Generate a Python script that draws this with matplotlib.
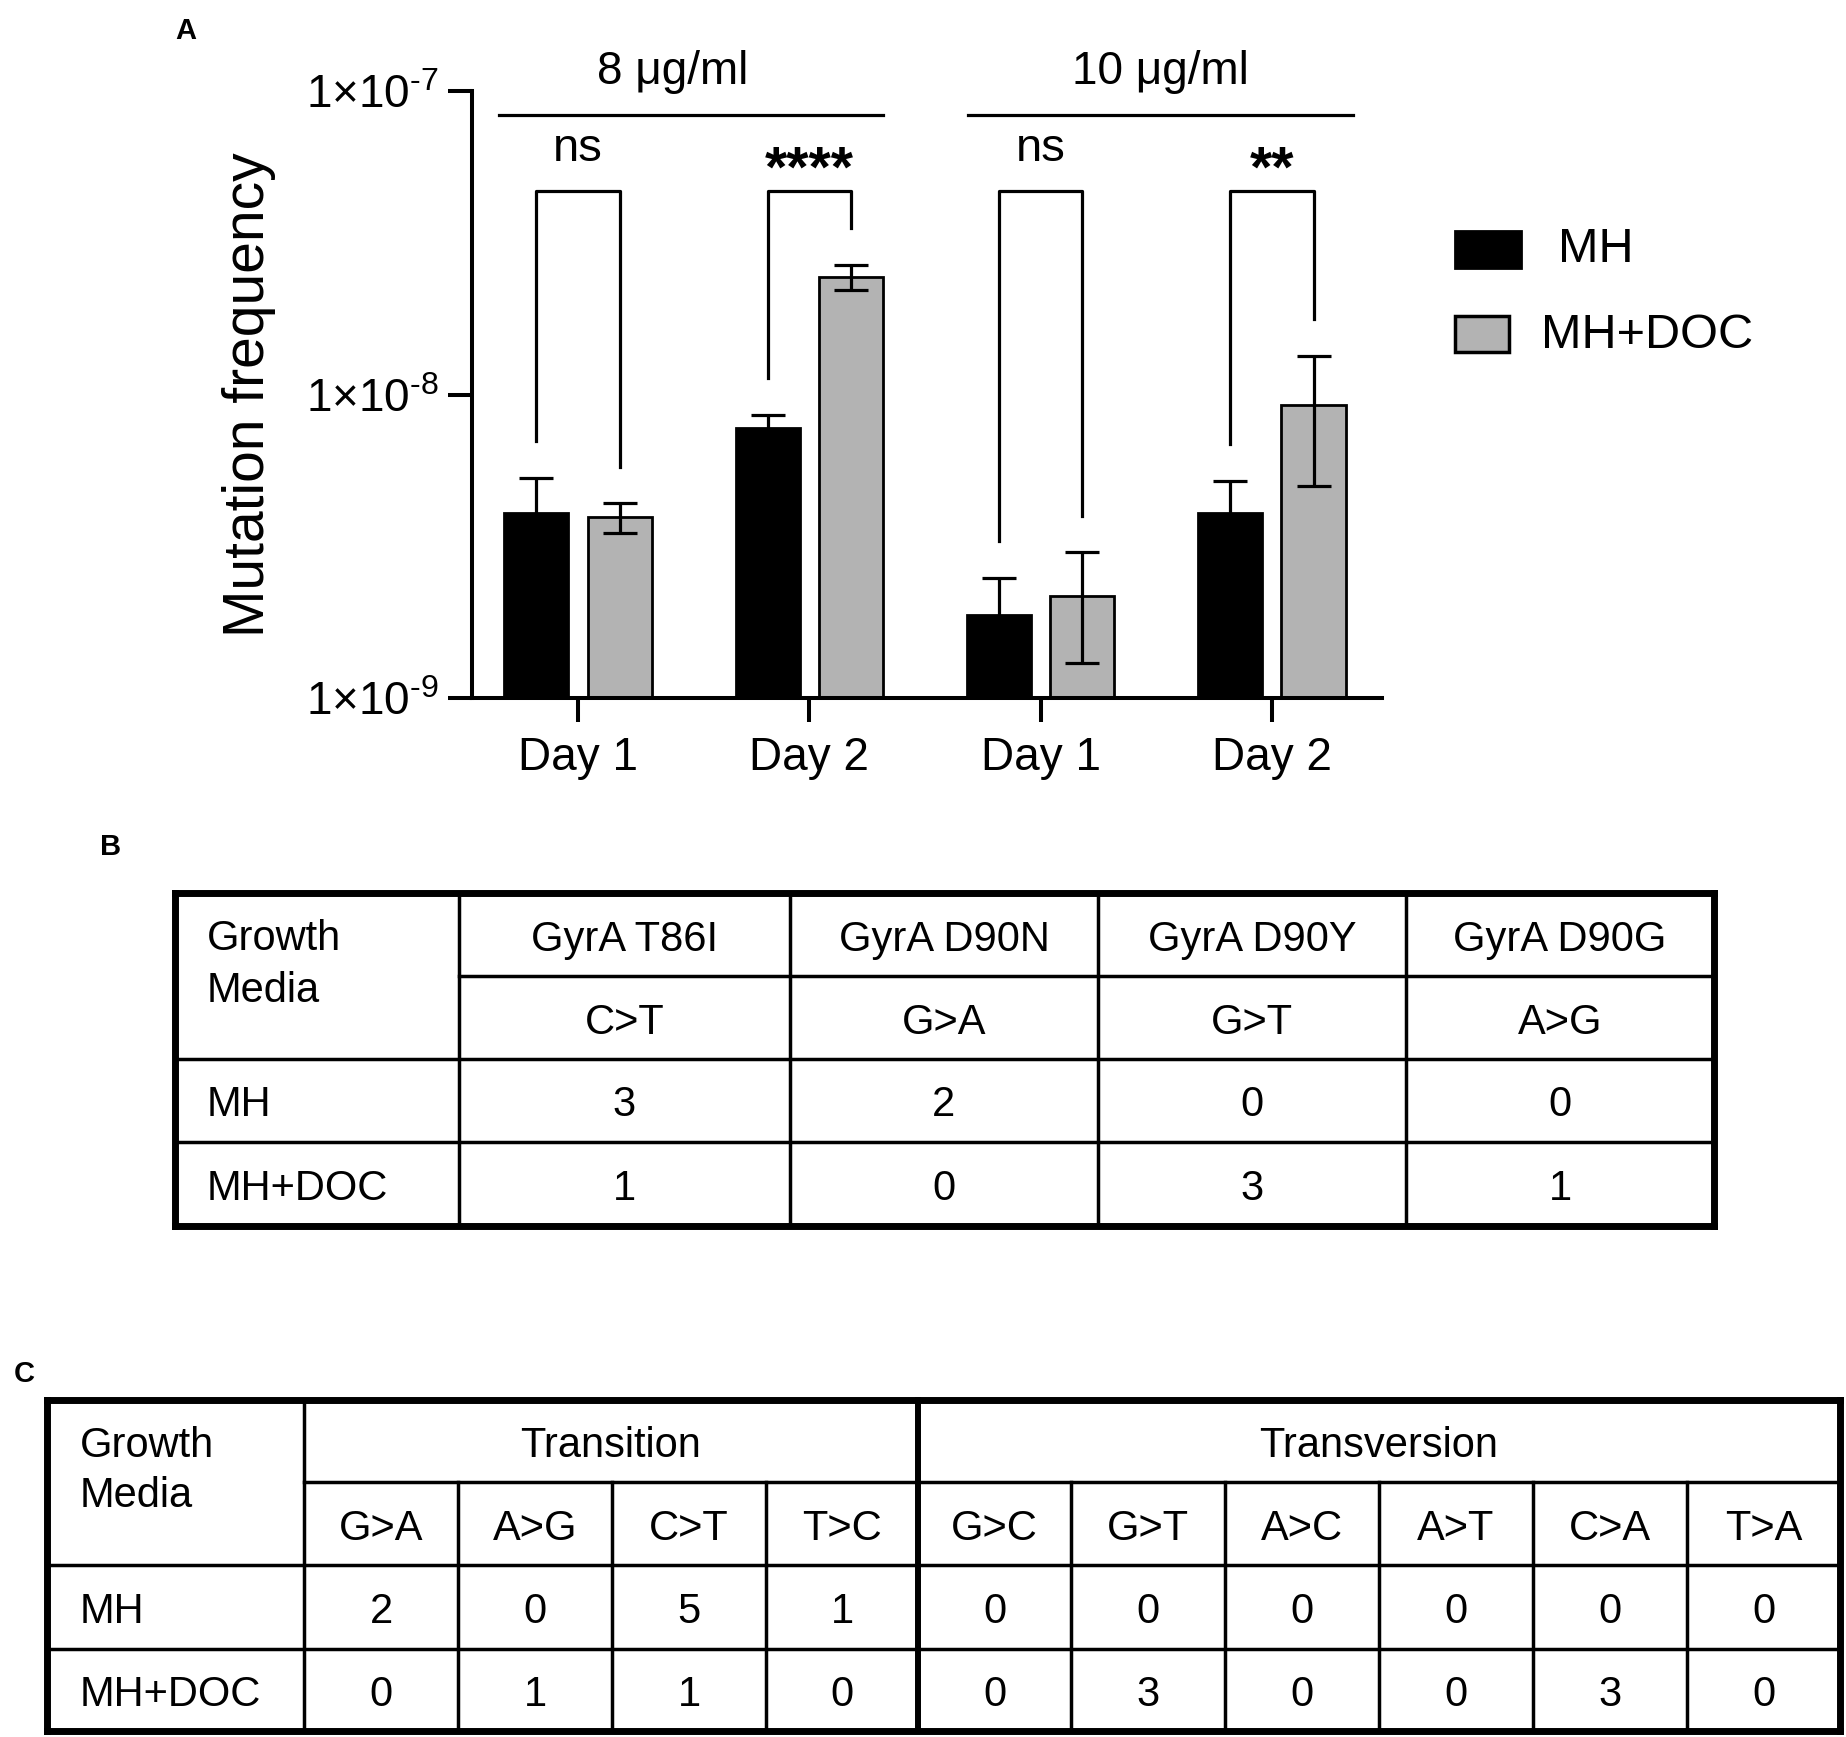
import numpy as np
import matplotlib
matplotlib.use('Agg')
import matplotlib.pyplot as plt
from matplotlib.patches import Rectangle

plt.rcParams['font.family'] = ['Liberation Sans', 'DejaVu Sans']
plt.rcParams['mathtext.fontset'] = 'custom'
plt.rcParams['mathtext.rm'] = 'Liberation Sans'

# panel A data (mutation frequency, mean and error)
day_labels = ['Day 1', 'Day 2', 'Day 1', 'Day 2']
group_labels = ['8 μg/ml', '10 μg/ml']
series_names = ['MH', 'MH+DOC']
mh_mean = np.array([4.08e-9, 7.74e-9, 1.88e-9, 4.08e-9])
mh_err = np.array([1.23e-9, 0.82e-9, 0.61e-9, 1.11e-9])
doc_mean = np.array([3.94e-9, 2.44e-8, 2.16e-9, 9.2e-9])
doc_err = np.array([0.44e-9, 0.23e-8, 0.86e-9, 4.2e-9])
sig_labels = ['ns', '****', 'ns', '**']

# panel B data
b_mutations = ['GyrA T86I', 'GyrA D90N', 'GyrA D90Y', 'GyrA D90G']
b_changes = ['C>T', 'G>A', 'G>T', 'A>G']
b_mh = [3, 2, 0, 0]
b_doc = [1, 0, 3, 1]

# panel C data
c_transition = ['G>A', 'A>G', 'C>T', 'T>C']
c_transversion = ['G>C', 'G>T', 'A>C', 'A>T', 'C>A', 'T>A']
c_mh = [2, 0, 5, 1, 0, 0, 0, 0, 0, 0]
c_doc = [0, 1, 1, 0, 0, 3, 0, 0, 3, 0]

W, H = 1846, 1737
fig = plt.figure(figsize=(W / 100, H / 100), dpi=100)

# overlay in pixel coords for tables, legend and panel letters
ov = fig.add_axes([0, 0, 1, 1])
ov.set_xlim(0, W)
ov.set_ylim(H, 0)
ov.axis('off')
ov.patch.set_visible(False)

# ---- panel A ----
ax = fig.add_axes([472 / W, 1 - 698 / H, (1382 - 472) / W, (698 - 91) / H])
ax.set_yscale('log')
ax.set_ylim(1e-9, 1e-7)
ax.set_xlim(-0.458, 3.476)
x = np.arange(len(day_labels))
off, bw = 0.18, 0.277
floor = 1e-9
ax.bar(x - off, mh_mean - floor, bottom=floor, width=bw, color='black',
       edgecolor='black', linewidth=2, zorder=2)
ax.bar(x + off, doc_mean - floor, bottom=floor, width=bw, color='#b3b3b3',
       edgecolor='black', linewidth=2, zorder=2)
ax.errorbar(x - off, mh_mean, yerr=mh_err, fmt='none', ecolor='black',
            elinewidth=2.3, capsize=12, capthick=2.3, zorder=3)
ax.errorbar(x + off, doc_mean, yerr=doc_err, fmt='none', ecolor='black',
            elinewidth=2.3, capsize=12, capthick=2.3, zorder=3)

# brackets
top = 4.67e-8
for i in range(len(x)):
    l0 = (mh_mean[i] + mh_err[i]) * 1.32
    l1 = (doc_mean[i] + doc_err[i]) * 1.32
    ax.plot([x[i] - off, x[i] - off, x[i] + off, x[i] + off], [l0, top, top, l1],
            color='black', lw=2.3, clip_on=False, zorder=4)
    if sig_labels[i] == 'ns':
        ax.text(x[i], 5.9e-8, sig_labels[i], ha='center', va='baseline', fontsize=34)
    else:
        ax.text(x[i], 4.85e-8, sig_labels[i], ha='center', va='baseline',
                fontsize=41, fontweight='bold')

# group lines and labels
for g, lab in enumerate(group_labels):
    shift = 0.0 if g == 0 else 0.03
    ax.plot([2 * g - 0.342 + shift, 2 * g + 1.319 + shift], [8.35e-8, 8.35e-8],
            color='black', lw=2.3, clip_on=False)
    ax.text(2 * g + (0.41 if g == 0 else 0.52), 1.012, lab, ha='center', va='baseline',
            fontsize=33, transform=ax.get_xaxis_transform())

ax.spines['top'].set_visible(False)
ax.spines['right'].set_visible(False)
ax.spines['left'].set_linewidth(2.9)
ax.spines['bottom'].set_linewidth(2.9)
ax.set_xticks(x)
ax.set_xticklabels(day_labels, fontsize=33)
ax.set_yticks([1e-9, 1e-8, 1e-7])
ax.set_yticklabels([r'1×10$^{\text{-9}}$', r'1×10$^{\text{-8}}$', r'1×10$^{\text{-7}}$'],
                   fontsize=33)
ax.minorticks_off()
ax.tick_params(axis='both', length=17, width=2.9)
ax.tick_params(axis='x', pad=10)
ax.tick_params(axis='y', pad=7)
ax.set_ylabel('Mutation frequency', fontsize=41, va='center')
ax.yaxis.set_label_coords(-0.245, 0.5)

# legend
ov.add_patch(Rectangle((1455, 231), 66, 37, facecolor='black', edgecolor='black', lw=2))
ov.add_patch(Rectangle((1455, 316), 54, 36, facecolor='#b3b3b3', edgecolor='black', lw=2.5))
ov.text(1558, 250, series_names[0], fontsize=35, ha='left', va='center')
ov.text(1541, 335, series_names[1], fontsize=35, ha='left', va='center')

# panel letters
ov.text(186, 31, 'A', fontsize=21, fontweight='bold', ha='center', va='center')
ov.text(111, 847, 'B', fontsize=21, fontweight='bold', ha='center', va='center')
ov.text(24, 1374, 'C', fontsize=21, fontweight='bold', ha='center', va='center')

thick, thin = 5, 2.5
fs = 30
cap = 16  # half cap height in px


def hline(y, x0, x1, lw):
    ov.plot([x0, x1], [y, y], color='black', lw=lw, solid_capstyle='projecting')


def vline(xx, y0, y1, lw):
    ov.plot([xx, xx], [y0, y1], color='black', lw=lw, solid_capstyle='projecting')


# ---- table B ----
bx = [175, 459, 790, 1098, 1406, 1714]
by = [893, 976, 1059, 1142, 1226]
hline(by[1], bx[1], bx[-1], thin)
hline(by[2], bx[0], bx[-1], thin)
hline(by[3], bx[0], bx[-1], thin)
for xx in bx[1:-1]:
    vline(xx, by[0], by[-1], thin)
hline(by[0], bx[0], bx[-1], thick)
hline(by[-1], bx[0], bx[-1], thick)
vline(bx[0], by[0], by[-1], thick)
vline(bx[-1], by[0], by[-1], thick)

rc = [(by[i] + by[i + 1]) / 2 for i in range(4)]
ov.text(bx[0] + 32, rc[0] + cap, 'Growth', fontsize=fs, va='baseline')
ov.text(bx[0] + 32, rc[0] + cap + 51, 'Media', fontsize=fs, va='baseline')
ov.text(bx[0] + 32, rc[2] + cap, series_names[0], fontsize=fs, va='baseline')
ov.text(bx[0] + 32, rc[3] + cap, series_names[1], fontsize=fs, va='baseline')
for j in range(4):
    cx = (bx[j + 1] + bx[j + 2]) / 2
    ov.text(cx, rc[0] + cap, b_mutations[j], fontsize=fs, ha='center', va='baseline')
    ov.text(cx, rc[1] + cap, b_changes[j], fontsize=fs, ha='center', va='baseline')
    ov.text(cx, rc[2] + cap, str(b_mh[j]), fontsize=fs, ha='center', va='baseline')
    ov.text(cx, rc[3] + cap, str(b_doc[j]), fontsize=fs, ha='center', va='baseline')

# ---- table C ----
cxs = [47, 304, 458, 612, 766, 918, 1071, 1225, 1379, 1533, 1687, 1840]
cy = [1400, 1482, 1565, 1649, 1731]
hline(cy[1], cxs[1], cxs[-1], thin)
hline(cy[2], cxs[0], cxs[-1], thin)
hline(cy[3], cxs[0], cxs[-1], thin)
vline(cxs[1], cy[0], cy[-1], thin)
for xx in cxs[2:-1]:
    if xx == cxs[5]:
        vline(xx, cy[0], cy[-1], 4.3)
    else:
        vline(xx, cy[1], cy[-1], thin)
hline(cy[0], cxs[0], cxs[-1], thick)
hline(cy[-1], cxs[0], cxs[-1], thick)
vline(cxs[0], cy[0], cy[-1], thick)
vline(cxs[-1], cy[0], cy[-1], thick)

rcc = [(cy[i] + cy[i + 1]) / 2 for i in range(4)]
ov.text(cxs[0] + 33, rcc[0] + cap, 'Growth', fontsize=fs, va='baseline')
ov.text(cxs[0] + 33, rcc[0] + cap + 50, 'Media', fontsize=fs, va='baseline')
ov.text(cxs[0] + 33, rcc[2] + cap, series_names[0], fontsize=fs, va='baseline')
ov.text(cxs[0] + 33, rcc[3] + cap, series_names[1], fontsize=fs, va='baseline')
ov.text((cxs[1] + cxs[5]) / 2, rcc[0] + cap, 'Transition', fontsize=fs, ha='center', va='baseline')
ov.text((cxs[5] + cxs[-1]) / 2, rcc[0] + cap, 'Transversion', fontsize=fs, ha='center', va='baseline')
changes = c_transition + c_transversion
for j in range(len(changes)):
    cx = (cxs[j + 1] + cxs[j + 2]) / 2
    ov.text(cx, rcc[1] + cap, changes[j], fontsize=fs, ha='center', va='baseline')
    ov.text(cx, rcc[2] + cap, str(c_mh[j]), fontsize=fs, ha='center', va='baseline')
    ov.text(cx, rcc[3] + cap, str(c_doc[j]), fontsize=fs, ha='center', va='baseline')

fig.savefig('out.png', dpi=100)
